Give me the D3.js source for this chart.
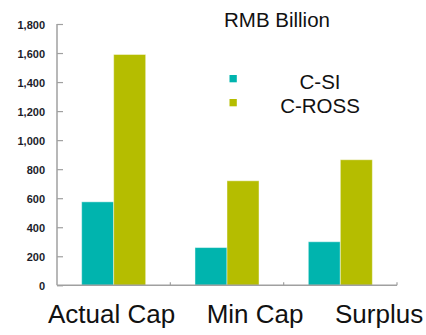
<!DOCTYPE html>
<html>
<head>
<meta charset="utf-8">
<script src="https://cdn.jsdelivr.net/npm/d3@7"></script>
<style>
  html, body { margin: 0; padding: 0; background: #fff; }
  svg { display: block; font-family: "Liberation Sans", Arial, sans-serif; }
</style>
</head>
<body>
<svg id="chart" width="426" height="335"></svg>
<script>
// Capital figures, RMB billion
const categories = ["Actual Cap", "Min Cap", "Surplus"];
const seriesNames = ["C-SI", "C-ROSS"];
const cSI = [575, 260, 300];
const cROSS = [1590, 720, 865];
const yTicks = [0, 200, 400, 600, 800, 1000, 1200, 1400, 1600, 1800];
const unitTitle = "RMB Billion";

const colors = { "C-SI": "#00b4ae", "C-ROSS": "#b5bd00" };
const seriesValues = { "C-SI": cSI, "C-ROSS": cROSS };

const svg = d3.select("#chart");
const plotLeft = 57, plotRight = 397, plotTop = 24, plotBottom = 285.3;

const x0 = d3.scaleBand().domain(categories).range([plotLeft, plotRight]).padding(0);
const x1 = d3.scaleBand().domain(seriesNames).range([0, x0.bandwidth()])
  .paddingInner(0).paddingOuter(0.77);
const y = d3.scaleLinear().domain([0, 1800]).range([plotBottom, plotTop]);

// bars
categories.forEach((cat, i) => {
  const g = svg.append("g").attr("transform", `translate(${x0(cat)},0)`);
  seriesNames.forEach(s => {
    const v = seriesValues[s][i];
    g.append("rect")
      .attr("x", x1(s))
      .attr("y", y(v))
      .attr("width", x1.bandwidth())
      .attr("height", y(0) - y(v))
      .attr("fill", colors[s])
      .attr("stroke", "#ffffff")
      .attr("stroke-opacity", 0.45)
      .attr("stroke-width", 1);
  });
});

// y axis: inward ticks, labels on the left
const yAxis = svg.append("g").attr("transform", `translate(${plotLeft},0)`)
  .call(d3.axisRight(y).tickValues(yTicks).tickSize(6).tickFormat(""));
yAxis.select(".domain").remove();
yAxis.selectAll(".tick line").attr("stroke", "#a0a0a0").attr("stroke-width", 1.2);
svg.append("line").attr("x1", plotLeft).attr("x2", plotLeft).attr("y1", plotTop).attr("y2", plotBottom)
  .attr("stroke", "#a0a0a0").attr("stroke-width", 1.5);

svg.append("g").selectAll("text").data(yTicks).join("text")
  .attr("x", 45)
  .attr("y", d => y(d) + 5)
  .attr("text-anchor", "end")
  .attr("font-size", 11)
  .attr("font-weight", "bold")
  .attr("fill", "#1c1c2a")
  .text(d3.format(","));

// x axis: baseline with small upward ticks at category boundaries
svg.append("line").attr("x1", plotLeft).attr("x2", plotRight).attr("y1", plotBottom).attr("y2", plotBottom)
  .attr("stroke", "#a0a0a0").attr("stroke-width", 1.5);
const bounds = categories.slice(1).map(c => x0(c)).concat([plotRight]);
svg.append("g").selectAll("line").data(bounds).join("line")
  .attr("x1", d => d).attr("x2", d => d)
  .attr("y1", plotBottom).attr("y2", plotBottom - 3)
  .attr("stroke", "#a0a0a0").attr("stroke-width", 1.2);

// category labels in one row
const lab = svg.append("text")
  .attr("x", 48).attr("y", 323)
  .attr("font-size", 26)
  .attr("fill", "#111");
categories.forEach((c, i) => {
  lab.append("tspan").attr("dx", i === 0 ? 0 : 31.5).text(c);
});

// unit title
svg.append("text").attr("x", 277).attr("y", 26.7)
  .attr("text-anchor", "middle").attr("font-size", 20.5).attr("fill", "#111")
  .text(unitTitle);

// legend
seriesNames.forEach((s, i) => {
  const ly = 89.3 + i * 24;
  svg.append("rect").attr("x", 229.5).attr("y", ly - 14.3).attr("width", 7.3).attr("height", 7.3)
    .attr("fill", colors[s]);
  svg.append("text").attr("x", 320).attr("y", ly)
    .attr("text-anchor", "middle").attr("font-size", 20.5).attr("fill", "#111")
    .text(s);
});
</script>
</body>
</html>
